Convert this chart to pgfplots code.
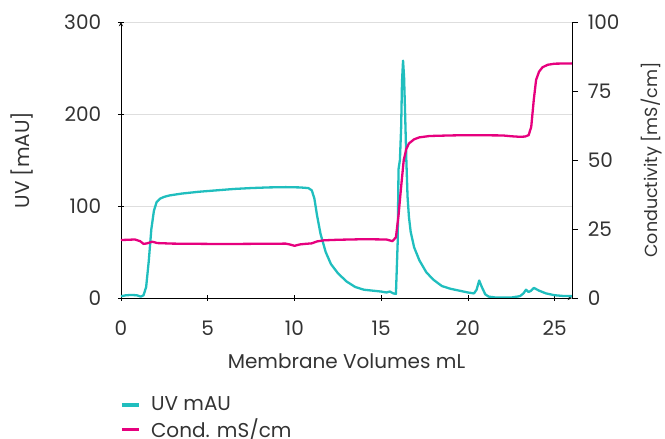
\documentclass[border=0pt]{standalone}
\usepackage{fontspec}
\setmainfont{Poppins}
\usepackage{pgfplots}
\pgfplotsset{compat=1.18}
\definecolor{uvc}{RGB}{32,190,190}
\definecolor{condc}{RGB}{230,0,126}
\definecolor{txt}{RGB}{51,51,51}
\definecolor{gridc}{RGB}{222,222,222}
\begin{document}
\fontsize{20}{24}\selectfont
\begin{tikzpicture}
\useasboundingbox (-121pt,-141pt) rectangle (544pt,298pt);
\pgfplotsset{
  base/.style={
    scale only axis, width=451pt, height=276pt,
    xmin=0, xmax=26,
    /pgf/number format/assume math mode=true,
    tick align=outside, major tick length=6pt,
    tick style={black, line width=0.8pt},
    axis line style={-, black, line width=0.9pt},
    ticklabel style={text=txt, font=\fontsize{20}{24}\selectfont},
    label style={text=txt, font=\fontsize{20}{24}\selectfont},
  }
}
\begin{axis}[base,
  axis x line=bottom, axis y line=left,
  ymin=0, ymax=300, ytick={0,100,200,300},
  xtick={0,5,10,15,20,25},
  xticklabel style={yshift=-13pt},
  yticklabel style={xshift=-10pt},
  ymajorgrids, grid style={gridc, line width=0.9pt},
  xlabel={Membrane Volumes mL},
  ylabel={UV [mAU]},
  xlabel style={at={(axis description cs:0.5,-0.2300)}, anchor=center},
  ylabel style={at={(axis description cs:-0.2195,0.5)}, anchor=center},
]
\addplot[uvc, line width=2.3pt, line join=round] coordinates {
(0,2)(0.3,3)(0.6,3.3)(0.9,3)(1.15,1.5)(1.3,3)(1.45,12)(1.6,40)(1.75,75)(1.9,95)(2.05,104)(2.25,108)(2.5,110)(2.8,111.5)(3.5,113.5)(4.5,115.5)(5.5,117)(6.5,118.5)(7.5,119.5)(8.5,120.2)(9.5,120.5)(10.3,120.2)(10.8,119.5)(11.0,117)(11.15,108)(11.3,90)(11.5,70)(11.8,50)(12.1,37)(12.5,27)(13,18)(13.5,12)(14,9)(14.5,8)(15,7)(15.3,6)(15.5,7)(15.7,5)(15.85,4.5)(15.95,60)(16.0,140)(16.08,150)(16.15,185)(16.2,235)(16.26,258)(16.32,240)(16.38,200)(16.45,150)(16.52,110)(16.6,88)(16.7,72)(16.9,55)(17.2,41)(17.6,28)(18,20)(18.5,13)(19,10)(19.5,8)(20,6)(20.35,5)(20.5,9)(20.65,19)(20.8,12)(21,4)(21.2,1.5)(21.6,0.5)(22.5,0.5)(23.0,2)(23.2,5)(23.35,9)(23.5,6.5)(23.65,8)(23.8,11)(24.1,8)(24.5,5)(25,3)(25.5,2.2)(26,2)
};
\end{axis}
\begin{axis}[base,
  axis x line=none, axis y line*=right,
  ymin=0, ymax=100, ytick={0,25,50,75,100},
  yticklabel style={xshift=3pt},
  ylabel={Conductivity [mS/cm]},
  ylabel style={at={(axis description cs:1.176,0.5)}, anchor=center, font=\fontsize{17.5}{21}\selectfont},
  legend style={at={(axis description cs:-0.002,-0.436)}, anchor=west, draw=none, fill=none, inner sep=0pt, row sep=3pt,
    font=\fontsize{20}{24}\selectfont, text=txt, cells={anchor=west}, nodes={inner ysep=1pt}},
  legend image code/.code={\draw[#1, line width=3.2pt] (0pt,0pt) -- (17pt,0pt); \path (26pt,0pt);},
]
\addlegendimage{uvc}
\addlegendentry{UV mAU}
\addplot[condc, line width=2.3pt, line join=round] coordinates {
(0,21)(0.8,21.2)(1.1,20.6)(1.3,19.6)(1.5,19.8)(1.8,20.4)(2.1,19.9)(3,19.7)(5,19.6)(7,19.6)(9.5,19.7)(9.8,19.3)(10,18.9)(10.3,19.4)(10.6,19.6)(11,19.8)(11.3,20.5)(11.7,20.9)(12.5,21.1)(14,21.3)(15.3,21.2)(15.65,20.6)(15.85,22)(16.0,30)(16.13,39)(16.3,50)(16.45,54)(16.6,56)(16.9,57.5)(17.2,58.2)(17.8,58.7)(19,58.9)(20,59)(22,58.9)(22.5,58.6)(23,58.4)(23.3,58.5)(23.5,59)(23.65,62)(23.8,72)(23.93,79)(24.1,82)(24.3,83.6)(24.6,84.5)(25,84.9)(26,85)
};
\addlegendentry{Cond. mS/cm}
\end{axis}
\end{tikzpicture}
\end{document}
